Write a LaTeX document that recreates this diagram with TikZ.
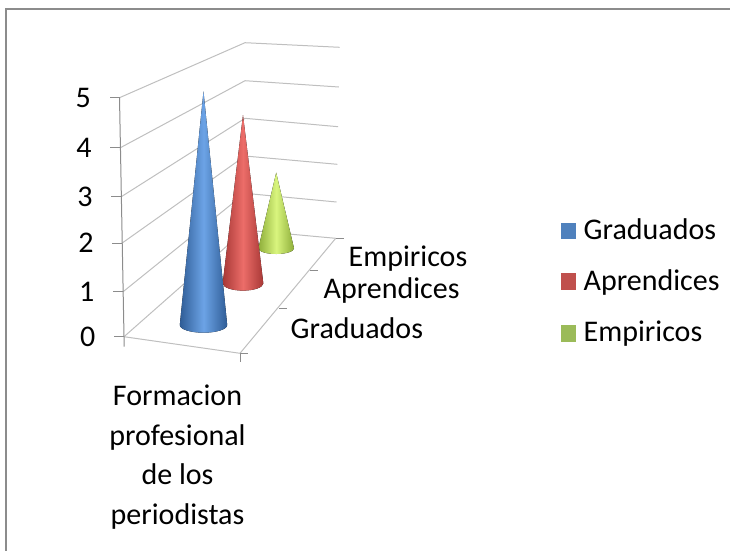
\documentclass[tikz,border=0pt]{standalone}
\usepackage{fontspec}
\setmainfont{Carlito}
\usetikzlibrary{positioning}
\definecolor{gblue}{HTML}{4F81BD}
\definecolor{gred}{HTML}{C0504D}
\definecolor{ggreen}{HTML}{9BBB59}
\definecolor{blueedge}{HTML}{2F5C96}
\definecolor{bluemid}{HTML}{6CA3E6}
\definecolor{rededge}{HTML}{A83836}
\definecolor{redmid}{HTML}{EC6D69}
\definecolor{greenedge}{HTML}{8EAE3A}
\definecolor{greenmid}{HTML}{D9F57E}
\begin{document}
\begin{tikzpicture}[x=1pt,y=-1pt,font=\fontsize{30}{39.5}\selectfont]

        \useasboundingbox (0,0) rectangle (730,550);
        \def \conepath#1#2#3#4#5{ (#1,#2) -- ({#1-#3},#4) arc[start angle=180, end angle=0, x radius=#3, y radius=#5] -- cycle }
        \tikzstyle{gridline}=[draw=black!25, line width=1pt]
        \tikzstyle{axisline}=[draw=black!45, line width=1pt]
        \tikzstyle{numlbl}=[inner sep=0pt, anchor=east]
        \tikzstyle{catlbl}=[inner sep=0pt, anchor=base west]
        \tikzstyle{keybox}=[minimum width=15.5pt, minimum height=16.5pt, inner sep=0pt, anchor=south west]

        % frame
        \draw[draw=black!45, line width=2pt] (6,560) -- (6,9) -- (740,9);

        % walls
        \foreach \k/\ya/\yb/\yc in {0/336.7/230/238.3, 1/291.7/193.3/202, 2/243/156/164.3, 3/196.7/118.3/126.7, 4/147.7/80.7/87, 5/97.7/42.7/47.3}
        {
          \coordinate (a\k) at ({124-0.9*\k},\ya);
          \coordinate (b\k) at (245,\yb);
          \coordinate (c\k) at ({335.7+0.8*\k},\yc);
          \draw[gridline] (a\k) -- (b\k) -- (c\k);
          \draw[axisline] (a\k) -- ++(-10,0);
          \node (y\k) [numlbl] at ({95.5-0.9*\k},\ya) {\k};
        }

        % floor
        \coordinate (f1) at (240,353.3);
        \coordinate (t1) at (279,308);
        \coordinate (t2) at (310,270.7);
        \draw[gridline] (a0) -- (f1) -- (c0);
        \begin{scope}[axisline]
        \draw (a5) -- (a0) -- ++(0,10);
        \draw (f1) -- ++(8,0);
        \draw (f1) -- ++(0,9);
        \draw (t1) -- ++(8,0);
        \draw (t2) -- ++(8,0);
        \draw (c0) -- ++(8,0);
        \end{scope}

        \node (cg) [catlbl] at (290.5,338.3) {Graduados};
        \node (ca) [catlbl] at (323.5,298.3) {Aprendices};
        \node (ce) [catlbl] at (348.5,266.7) {Empiricos};

        % cones
        \fill[left color=greenedge, right color=greenedge, middle color=greenmid] \conepath{276.2}{172.7}{17.8}{248.3}{5.7};
        \fill[left color=rededge, right color=rededge, middle color=redmid] \conepath{243}{115}{20.3}{283.3}{7.3};
        \fill[left color=blueedge, right color=blueedge, middle color=bluemid] \conepath{203.5}{91.5}{23.7}{325}{7.7};

        % legend
        \node (k1) [keybox, fill=gblue] at (560.5,239.3) {};
        \node (k2) [keybox, fill=gred] at (560.5,290) {};
        \node (k3) [keybox, fill=ggreen] at (560.5,341.7) {};
        \node (l1) [catlbl] at (583.5,239.3) {Graduados};
        \node (l2) [catlbl] at (583.5,290) {Aprendices};
        \node (l3) [catlbl] at (583.5,341.7) {Empiricos};

        \node (ttl) [inner sep=0pt, anchor=north, align=center] at (177.5,385) {Formacion\\profesional\\de los\\periodistas};

\end{tikzpicture}
\end{document}
